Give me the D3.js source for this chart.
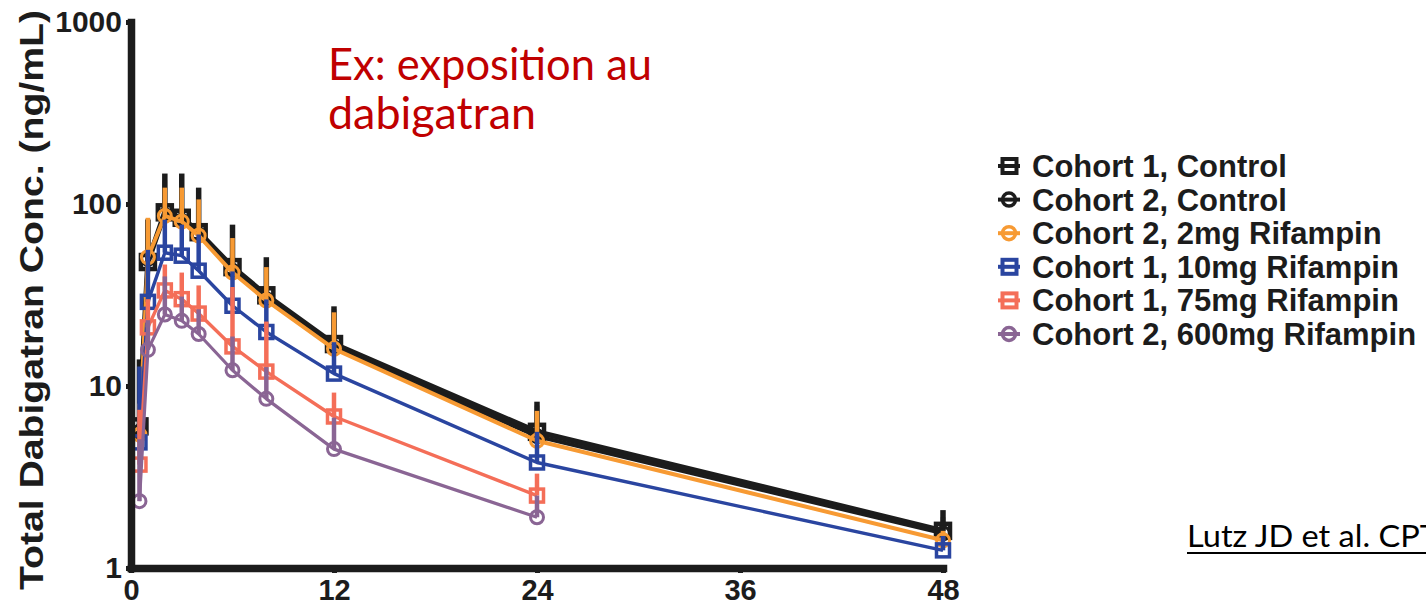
<!DOCTYPE html>
<html>
<head>
<meta charset="utf-8">
<script src="https://cdn.jsdelivr.net/npm/d3@7"></script>
<style>
  html, body { margin: 0; padding: 0; background: #ffffff; }
  svg { display: block; }
</style>
</head>
<body>
<svg id="chart" width="1426" height="607"></svg>
<script>
// Sampling times (h)
const hours = [0.5, 1, 2, 3, 4, 6, 8, 12, 24, 48];

// Mean total dabigatran concentration (ng/mL) per arm, and upper SD limit
const c1Control      = [6.0, 48, 90, 84, 70, 45, 31.5, 17.0, 5.6, 1.6];
const c1ControlTop   = [14, 82, 147, 147, 123, 77, 51, 27.4, 8.2, 2.08];
const c2Control      = [5.6, 50, 87, 81, 68, 43, 30, 16.3, 5.3, 1.55];
const c2ControlTop   = [12, 83, 135, 135, 115, 71, 48, 26.4, 7.8, 1.9];
const c2Rif2         = [5.4, 51, 86, 80, 67, 42, 29.5, 16.0, 5.0, 1.42];
const c2Rif2Top      = [8, 84, 123, 123, 106, 65, 45, 25.4, 7.3, 1.6];
const c1Rif10        = [4.9, 29, 54, 52, 43, 27.6, 19.8, 11.7, 3.8, 1.25];
const c1Rif10Top     = [12.8, 56, 82, 77, 68, 42.6, 29.9, 17.4, 5.6, 1.5];
const c1Rif75        = [3.7, 21, 33.5, 30, 25, 16.5, 12.0, 6.8, 2.5];
const c1Rif75Top     = [7.4, 30, 46.5, 42, 35.7, 35, 22.6, 9.2, 3.3];
const c2Rif600       = [2.33, 15.8, 24.7, 22.8, 19.3, 12.2, 8.5, 4.5, 1.9];
const c2Rif600Top    = [5.1, 23, 40, 31, 26.4, 18.7, 12.7, 6.7, 2.5];

const seriesNames  = ["Cohort 1, Control", "Cohort 2, Control", "Cohort 2, 2mg Rifampin",
                      "Cohort 1, 10mg Rifampin", "Cohort 1, 75mg Rifampin", "Cohort 2, 600mg Rifampin"];
const seriesColors = ["#1c1c1c", "#1c1c1c", "#f79a33", "#2a45a0", "#f46e58", "#8a6594"];
const seriesShapes = ["square", "circle", "circle", "square", "square", "circle"];
const seriesMeans  = [c1Control, c2Control, c2Rif2, c1Rif10, c1Rif75, c2Rif600];
const seriesTops   = [c1ControlTop, c2ControlTop, c2Rif2Top, c1Rif10Top, c1Rif75Top, c2Rif600Top];
const lineWidths   = [5.5, 4, 4, 3.4, 3.4, 3.2];

const xTicks = [0, 12, 24, 36, 48];
const yTicks = [1, 10, 100, 1000];

const svg = d3.select("#chart");
const x = d3.scaleLinear().domain([0, 48]).range([131, 943]);
const y = d3.scaleLog().domain([1, 1000]).range([568, 22]);

const tickFont = "'Liberation Sans', Arial, sans-serif";

// Series: error bars, connecting line, hollow markers
seriesNames.forEach((name, i) => {
  const color = seriesColors[i];
  const means = seriesMeans[i];
  const tops = seriesTops[i];
  const pts = means.map((v, k) => ({ t: hours[k], v, top: tops[k] }));
  const g = svg.append("g");
  const isFirst = i === 0;

  g.selectAll("line.err").data(pts).enter().append("line")
    .attr("x1", d => x(d.t)).attr("x2", d => x(d.t))
    .attr("y1", d => y(d.v)).attr("y2", d => y(d.top))
    .attr("stroke", color).attr("stroke-width", isFirst ? 5.5 : 4.5);

  g.append("path").datum(pts)
    .attr("d", d3.line().x(d => x(d.t)).y(d => y(d.v)))
    .attr("fill", "none").attr("stroke", color)
    .attr("stroke-width", lineWidths[i]).attr("stroke-linejoin", "round");

  if (seriesShapes[i] === "square") {
    const s = isFirst ? 14 : 13;
    g.selectAll("rect").data(pts).enter().append("rect")
      .attr("x", d => x(d.t) - s / 2).attr("y", d => y(d.v) - s / 2)
      .attr("width", s).attr("height", s)
      .attr("fill", "none").attr("stroke", color).attr("stroke-width", isFirst ? 4.5 : 3.5);
  } else {
    g.selectAll("circle").data(pts).enter().append("circle")
      .attr("cx", d => x(d.t)).attr("cy", d => y(d.v)).attr("r", 6.5)
      .attr("fill", "none").attr("stroke", color).attr("stroke-width", 3);
  }
});

// Axes
const yAxis = svg.append("g").attr("transform", "translate(131,0)")
  .call(d3.axisLeft(y).tickValues(yTicks).tickFormat(d3.format("d"))
    .tickSize(5).tickSizeOuter(0).tickPadding(4));
const xAxis = svg.append("g").attr("transform", "translate(0,568)")
  .call(d3.axisBottom(x).tickValues(xTicks).tickFormat(d3.format("d"))
    .tickSize(5).tickSizeOuter(0).tickPadding(6));

[yAxis, xAxis].forEach(a => {
  a.select(".domain").attr("stroke", "#1c1c1c").attr("stroke-width", 7.5)
    .attr("stroke-linecap", "square");
  a.selectAll(".tick line").attr("stroke", "#1c1c1c").attr("stroke-width", 5);
  a.selectAll(".tick text").attr("fill", "#1c1c1c")
    .style("font-family", tickFont).style("font-weight", "bold").style("font-size", "29px");
});
yAxis.selectAll(".tick text").style("font-size", "30px");

// Y axis title
svg.append("text")
  .attr("transform", "translate(43,590) rotate(-90)")
  .attr("textLength", 580).attr("lengthAdjust", "spacingAndGlyphs")
  .style("font-family", tickFont).style("font-weight", "bold").style("font-size", "34px")
  .attr("fill", "#1c1c1c")
  .text("Total Dabigatran Conc. (ng/mL)");

// Legend
const legend = svg.append("g");
seriesNames.forEach((name, i) => {
  const cy = 166 + i * 33.6;
  const color = seriesColors[i];
  legend.append("line").attr("x1", 998).attr("x2", 1020).attr("y1", cy).attr("y2", cy)
    .attr("stroke", color).attr("stroke-width", 4);
  if (seriesShapes[i] === "square") {
    legend.append("rect").attr("x", 1002.5).attr("y", cy - 7).attr("width", 14).attr("height", 14)
      .attr("fill", "none").attr("stroke", color).attr("stroke-width", 4);
  } else {
    legend.append("circle").attr("cx", 1009).attr("cy", cy).attr("r", 6.5)
      .attr("fill", "none").attr("stroke", color).attr("stroke-width", 3.5);
  }
  legend.append("text").attr("x", 1032).attr("y", cy + 11)
    .style("font-family", tickFont).style("font-weight", "bold").style("font-size", "31px")
    .attr("fill", "#1c1c1c").text(name);
});

// Annotation
const noteFont = "Lato, 'Open Sans', sans-serif";
svg.append("text").attr("x", 328).attr("y", 80)
  .attr("textLength", 324).attr("lengthAdjust", "spacingAndGlyphs")
  .style("font-family", noteFont).style("font-size", "45px").attr("fill", "#c00000")
  .text("Ex: exposition au");
svg.append("text").attr("x", 328).attr("y", 129)
  .attr("textLength", 208).attr("lengthAdjust", "spacingAndGlyphs")
  .style("font-family", noteFont).style("font-size", "45px").attr("fill", "#c00000")
  .text("dabigatran");

// Reference
svg.append("text").attr("x", 1187).attr("y", 547)
  .attr("textLength", 252).attr("lengthAdjust", "spacingAndGlyphs")
  .style("font-family", noteFont).style("font-size", "31px").attr("fill", "#000000")
  .text("Lutz JD et al. CPT");
svg.append("line").attr("x1", 1187).attr("x2", 1440).attr("y1", 553).attr("y2", 553)
  .attr("stroke", "#000000").attr("stroke-width", 2);
</script>
</body>
</html>
